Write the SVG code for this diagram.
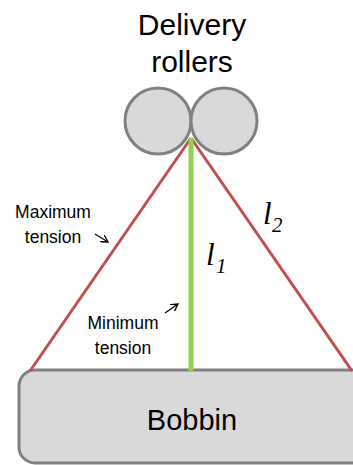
<svg xmlns="http://www.w3.org/2000/svg" width="353" height="465" viewBox="0 0 353 465">
<style>
.t{font-family:"Liberation Sans","Open Sans",sans-serif;fill:#000}
.m{font-family:"Liberation Serif","DejaVu Serif",serif;font-style:italic;fill:#000}
.roll{fill:#d9d9d9;stroke:#808080;stroke-width:3}
.red{stroke:#c0504d;stroke-width:3;fill:none}
.arr{stroke:#000;stroke-width:1.3;fill:none}
</style>
<defs>
<marker id="ah" markerWidth="8" markerHeight="8" refX="7" refY="4" orient="auto" markerUnits="userSpaceOnUse">
<path d="M0,0 L7,4 L0,8" fill="none" stroke="#000" stroke-width="1.3"/>
</marker>
</defs>
<g id="bobbin">
<rect x="19" y="370" width="350" height="93" rx="16" class="roll"/>
<text class="t" x="192" y="430" font-size="29" text-anchor="middle">Bobbin</text>
</g>
<g id="connectors">
<line class="red" x1="191" y1="138" x2="30" y2="371"/>
<line class="red" x1="191" y1="138" x2="352" y2="371"/>
<line x1="191" y1="138" x2="191" y2="371" stroke="#92d050" stroke-width="5"/>
<line class="arr" x1="95" y1="234" x2="108" y2="242" marker-end="url(#ah)"/>
<line class="arr" x1="165" y1="313" x2="178" y2="304" marker-end="url(#ah)"/>
</g>
<g id="rollers">
<circle cx="158" cy="121" r="33" class="roll"/>
<circle cx="224" cy="121" r="33" class="roll"/>
<text class="t" x="192" y="35" font-size="30" text-anchor="middle">Delivery</text>
<text class="t" x="192" y="72" font-size="30" text-anchor="middle">rollers</text>
</g>
<g id="labels">
<text class="t" x="53" y="218" font-size="17.5" text-anchor="middle">Maximum</text>
<text class="t" x="53" y="243" font-size="17.5" text-anchor="middle">tension</text>
<text class="t" x="123" y="329" font-size="17.5" text-anchor="middle">Minimum</text>
<text class="t" x="123" y="354" font-size="17.5" text-anchor="middle">tension</text>
<text class="m" x="206" y="265" font-size="31">l</text>
<text class="m" x="216" y="273" font-size="21" font-style="normal">1</text>
<text class="m" x="263" y="224" font-size="31">l</text>
<text class="m" x="272" y="232" font-size="21" font-style="normal">2</text>
</g>
</svg>
